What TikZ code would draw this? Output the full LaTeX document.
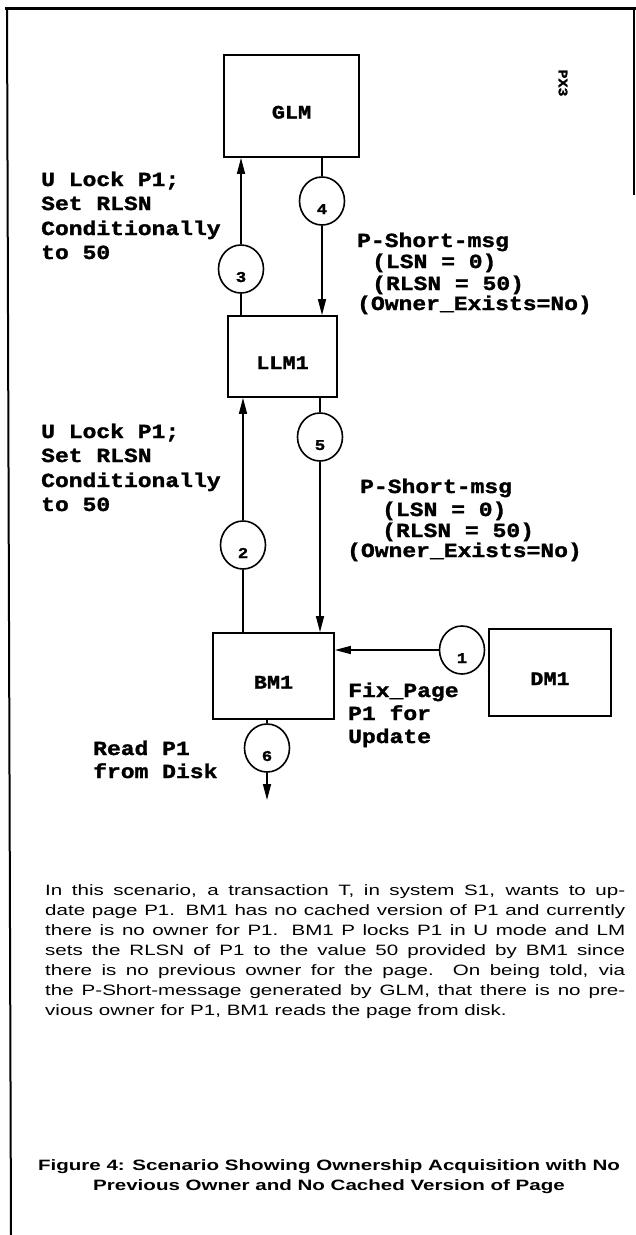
\documentclass[tikz,border=0pt]{standalone}
\usepackage{fontspec}
\setmainfont{Liberation Sans}
\newfontfamily\widesans[FakeStretch=1.37]{Liberation Sans}
\newfontfamily\prtmono[FakeStretch=1.15,FakeBold=1.5]{Liberation Mono}
\usetikzlibrary{shapes.geometric,arrows.meta}
\tikzset{
  mlab/.style={anchor=base west, inner sep=0pt, font=\prtmono\bfseries\fontsize{20}{24}\selectfont},
  boxn/.style={draw, line width=1.8pt, inner sep=0pt, text height=25pt, text depth=0pt,
    font=\prtmono\bfseries\fontsize{19}{24}\selectfont},
  stepnum/.style={draw, ellipse, line width=1.6pt, minimum width=45pt, minimum height=48pt,
    inner sep=0pt, text height=26pt, text depth=0pt, font=\prtmono\bfseries\fontsize{15}{15}\selectfont},
  conn/.style={line width=1.5pt},
  arrc/.style={line width=1.5pt, -{Triangle[length=16pt,width=8pt]}},
}
\begin{document}
\begin{tikzpicture}[x=1pt,y=-1pt]
\useasboundingbox (0,0) rectangle (636,1235);
\fill[white] (0,0) rectangle (636,1235);
% frame
\draw[line width=3pt] (5,8) -- (636,8);
\draw[line width=2pt] (7,7) -- (11,1235);
\draw[line width=1.2pt] (634,8) -- (634,195);
% boxes
\node[boxn, minimum width=135pt, minimum height=102pt] (glm) at (291.5,106) {GLM};
\node[boxn, minimum width=109pt, minimum height=81pt] (llm) at (282.5,356.5) {LLM1};
\node[boxn, minimum width=121pt, minimum height=86pt] (bm) at (273.5,676) {BM1};
\node[boxn, minimum width=122pt, minimum height=87pt] (dm) at (550,672.5) {DM1};
\node[rotate=-90, inner sep=0pt, font=\prtmono\bfseries\fontsize{13}{13}\selectfont] (px) at (563,83) {PX3};
% step circles
\node[stepnum] (c1) at (462,650) {1};
\node[stepnum] (c2) at (243,545) {2};
\node[stepnum] (c3) at (241,269) {3};
\node[stepnum] (c4) at (322,201) {4};
\node[stepnum] (c5) at (320,437) {5};
\node[stepnum] (c6) at (267,748) {6};
\coordinate (diskend) at (267,800);
% connectors
\draw[arrc] (c1.west) -- (c1.west -| bm.east);
\draw[conn] (c2.south) -- (c2.south |- bm.north);
\draw[arrc] (c2.north) -- (c2.north |- llm.south);
\draw[conn] (c3.south) -- (c3.south |- llm.north);
\draw[arrc] (c3.north) -- (c3.north |- glm.south);
\draw[conn] (c4.north) -- (c4.north |- glm.south);
\draw[arrc] (c4.south) -- (c4.south |- llm.north);
\draw[conn] (c5.north) -- (c5.north |- llm.south);
\draw[arrc] (c5.south) -- (c5.south |- bm.north);
\draw[conn] (c6.north) -- (c6.north |- bm.south);
\draw[arrc] (c6.south) -- (diskend);
% labels
\node[mlab] (ula1) at (41,186) {U Lock P1;};
\node[mlab] (ula2) at (41,210) {Set RLSN};
\node[mlab] (ula3) at (41,235) {Conditionally};
\node[mlab] (ula4) at (41,259) {to 50};
\node[mlab] (ulb1) at (41,438) {U Lock P1;};
\node[mlab] (ulb2) at (41,462) {Set RLSN};
\node[mlab] (ulb3) at (41,487) {Conditionally};
\node[mlab] (ulb4) at (41,511) {to 50};
\node[mlab] (psa1) at (357,247) {P-Short-msg};
\node[mlab] (psa2) at (372,268) {(LSN = 0)};
\node[mlab] (psa3) at (372,290) {(RLSN = 50)};
\node[mlab] (psa4) at (357,310) {(Owner\_Exists=No)};
\node[mlab] (psb1) at (360,493) {P-Short-msg};
\node[mlab] (psb2) at (382,516) {(LSN = 0)};
\node[mlab] (psb3) at (382,537) {(RLSN = 50)};
\node[mlab] (psb4) at (347,557) {(Owner\_Exists=No)};
\node[mlab] (fx1) at (348,697) {Fix\_Page};
\node[mlab] (fx2) at (348,720) {P1 for};
\node[mlab] (fx3) at (348,743) {Update};
\node[mlab] (rd1) at (93,755) {Read P1};
\node[mlab] (rd2) at (93,778) {from Disk};
% paragraph
\node[anchor=north west, inner sep=0pt, text width=580pt, align=justify,
  font=\widesans\fontsize{15}{20}\selectfont] (para) at (45,884)
  {\hyphenpenalty=10000\exhyphenpenalty=10000
  In this scenario, a transaction T, in system S1, wants to up-\linebreak
  date page P1. BM1 has no cached version of P1 and currently\linebreak
  there is no owner for P1. BM1 P locks P1 in U mode and LM\linebreak
  sets the RLSN of P1 to the value 50 provided by BM1 since\linebreak
  there is no previous owner for the page. On being told, via\linebreak
  the P-Short-message generated by GLM, that there is no pre-\linebreak
  vious owner for P1, BM1 reads the page from disk.};
% caption
\node[anchor=north, inner sep=0pt, align=center,
  font=\widesans\bfseries\fontsize{15}{20}\selectfont] (cap) at (329,1159)
  {Figure 4: Scenario Showing Ownership Acquisition with No\\
   Previous Owner and No Cached Version of Page};
\end{tikzpicture}
\end{document}
